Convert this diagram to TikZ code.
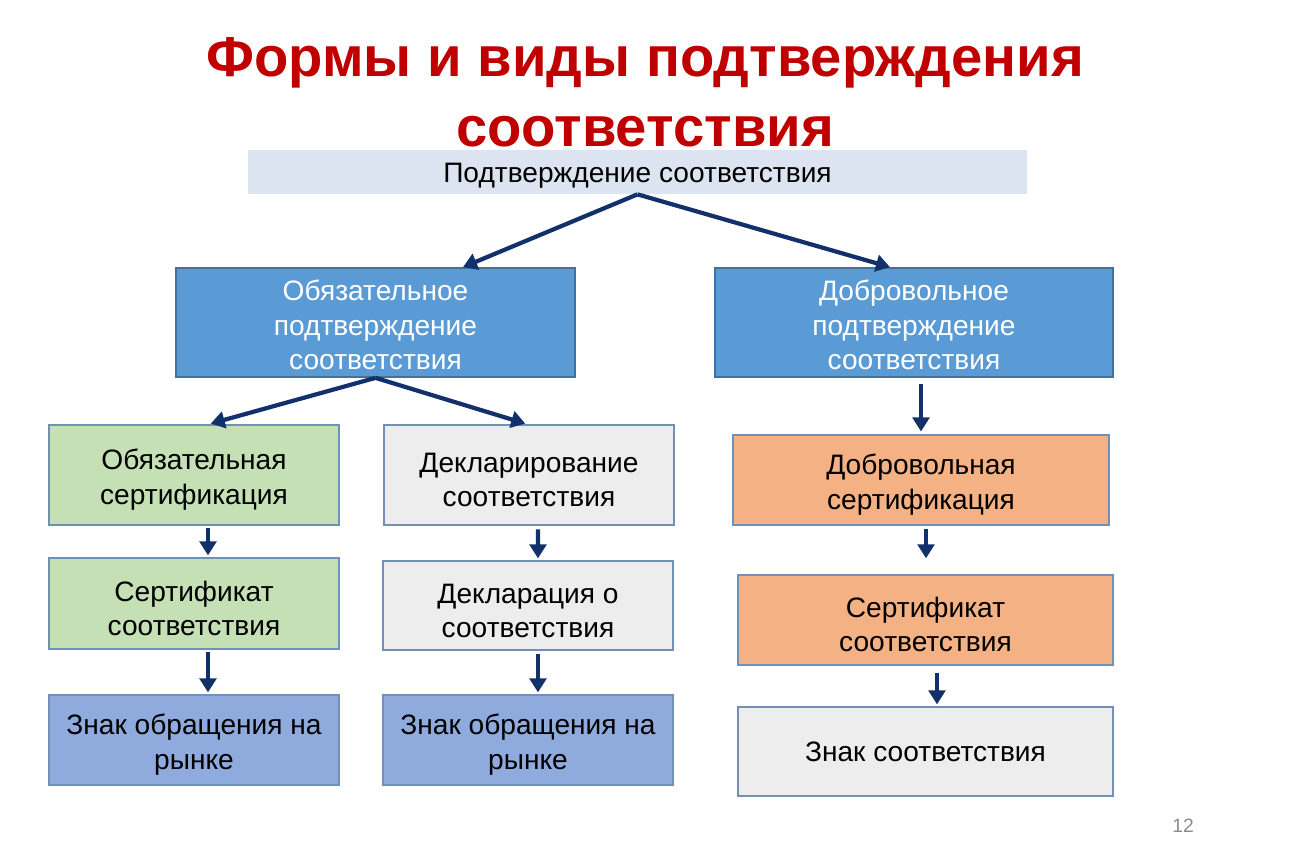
\documentclass[tikz,border=0pt]{standalone}
\usepackage{fontspec}
\setmainfont{Liberation Sans}
\usetikzlibrary{arrows.meta,positioning}
\definecolor{titlered}{HTML}{C00000}
\definecolor{headfill}{HTML}{DCE3F1}
\definecolor{midblue}{HTML}{5B9BD5}
\definecolor{midline}{HTML}{41719C}
\definecolor{boxline}{HTML}{7090B8}
\definecolor{greenfill}{HTML}{C5E0B4}
\definecolor{greyfill}{HTML}{EDEDED}
\definecolor{markfill}{HTML}{8FAADC}
\definecolor{orangefill}{HTML}{F4B183}
\definecolor{navy}{HTML}{12306A}
\newcommand{\lift}[1][17pt]{\rule{0pt}{#1}}
\tikzstyle{box}=[rectangle,draw=boxline,line width=1pt,align=center,inner sep=0pt,
font=\fontsize{16}{19.5}\selectfont]
\tikzstyle{formbox}=[box,draw=midline,fill=midblue,text=white,minimum height=2.18cm]
\tikzstyle{greenbox}=[box,fill=greenfill,minimum width=5.8cm]
\tikzstyle{greybox}=[box,fill=greyfill]
\tikzstyle{markbox}=[box,fill=markfill,minimum width=5.8cm,minimum height=1.8cm]
\tikzstyle{orangebox}=[box,fill=orangefill]
\tikzstyle{link}=[draw=navy,line width=2.4pt,-{Triangle[length=8pt,width=9.5pt]}]

\begin{document}
\begin{tikzpicture}[x=0.02cm,y=-0.02cm]
            \useasboundingbox (0,0) rectangle (1294,864);

            % TITLE

            \node[text=titlered,align=center,font=\fontsize{32}{40}\selectfont\bfseries] (title) at (645,92)
              {Формы и виды подтверждения\\соответствия};
            \node[rectangle,fill=headfill,minimum width=15.58cm,minimum height=0.88cm,inner sep=0pt,
              text height=12pt,text depth=-2pt,
              font=\fontsize{16}{19.5}\selectfont] (top) at (637.5,172) {Подтверждение соответствия};

            % FORMS

            \node[formbox,minimum width=7.98cm] (obl) at (375.5,322.5) {\lift[14.5pt]Обязательное\\подтверждение\\соответствия};
            \node[formbox,minimum width=7.96cm] (vol) at (914,322.5) {\lift[14.5pt]Добровольное\\подтверждение\\соответствия};

            \draw[link] (top.south) -- ([xshift=1.75cm]obl.north);
            \draw[link] (top.south) -- ([xshift=-0.48cm]vol.north);

            % MANDATORY PART

            \node[greenbox,minimum height=2cm] (oblcert) at (194,475) {\lift Обязательная\\сертификация};
            \node[greybox,minimum width=5.8cm,minimum height=2cm] (decl) at (529,475) {\lift Декларирование\\соответствия};
            \node[greenbox,minimum height=1.82cm] (cert) at (194,603.5) {\lift Сертификат\\соответствия};
            \node[greybox,minimum width=5.8cm,minimum height=1.78cm] (decldoc) at (528,605.5) {\lift Декларация о\\соответствия};
            \node[markbox] (mark) at (194,740) {\lift Знак обращения на\\рынке};
            \node[markbox] (declmark) at (528,740) {\lift Знак обращения на\\рынке};

            \draw[link,shorten >=1pt] (obl.south) -- ([xshift=0.3cm]oblcert.north);
            \draw[link,shorten >=1pt] (obl.south) -- ([xshift=-0.04cm]decl.north);
            \draw[link,shorten <=1pt,shorten >=1pt] ([xshift=0.28cm]oblcert.south) -- ([xshift=0.28cm]cert.north);
            \draw[link,shorten <=2pt,shorten >=1pt] ([xshift=0.18cm]decl.south) -- ([xshift=0.2cm]decldoc.north);
            \draw[link,shorten <=1pt,shorten >=1pt] ([xshift=0.28cm]cert.south) -- ([xshift=0.28cm]mark.north);
            \draw[link,shorten <=2pt,shorten >=1pt] ([xshift=0.2cm]decldoc.south) -- ([xshift=0.2cm]declmark.north);

            % VOLUNTARY PART

            \node[orangebox,minimum width=7.52cm,minimum height=1.8cm] (volcert) at (921,480) {\lift Добровольная\\сертификация};
            \node[orangebox,minimum width=7.5cm,minimum height=1.8cm] (volcertdoc) at (925.5,620) {\lift Сертификат\\соответствия};
            \node[greybox,minimum width=7.5cm,minimum height=1.78cm] (volmark) at (925.5,751.5) {Знак соответствия};

            \draw[link,shorten <=3.4pt,shorten >=1.5pt] (vol.south -| volcert.north) -- (volcert.north);
            \draw[link,shorten <=2pt,shorten >=9pt] ([xshift=0.1cm]volcert.south) -- ([xshift=0.1cm]volcert.south |- volcertdoc.north);
            \draw[link,shorten <=4pt,shorten >=1pt] ([xshift=0.23cm]volcertdoc.south) -- ([xshift=0.23cm]volmark.north);

            % PAGE NUMBER

            \node[text=black!45,font=\fontsize{11}{13}\selectfont] (page) at (1183,826) {12};

\end{tikzpicture}
\end{document}
